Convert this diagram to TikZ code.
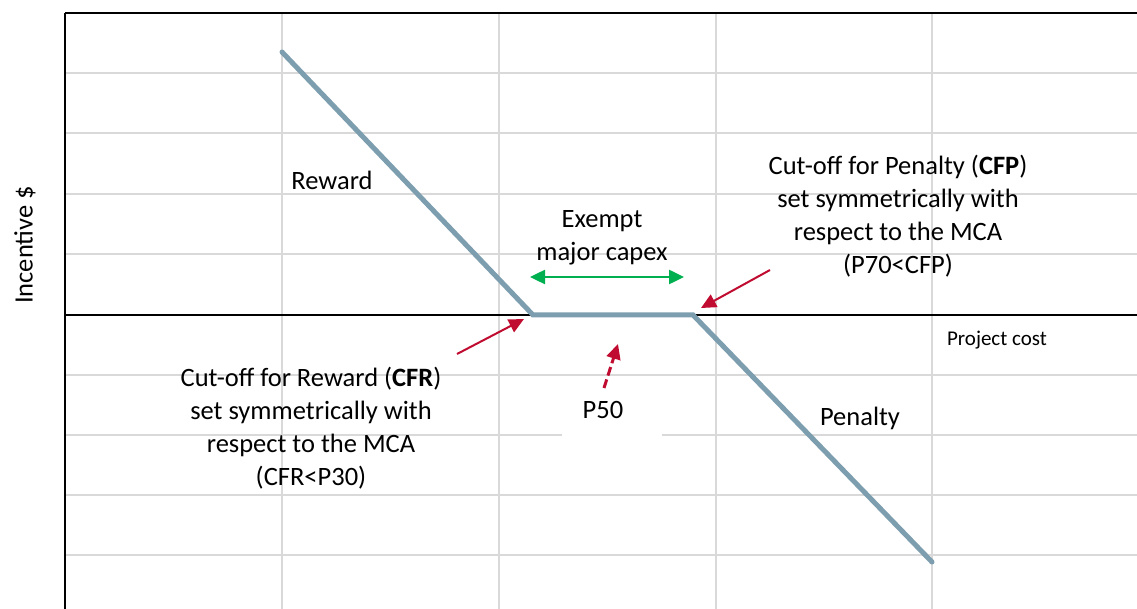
\documentclass[tikz,border=0pt]{standalone}
\usepackage{fontspec}
\setmainfont{Carlito}
\usetikzlibrary{arrows.meta}
\definecolor{gridgray}{RGB}{217,217,217}
\definecolor{curveblue}{RGB}{125,158,174}
\definecolor{arrowred}{RGB}{192,12,48}
\definecolor{arrowgreen}{RGB}{0,176,80}
\tikzset{
  gridline/.style={draw=gridgray, line width=1.6pt},
  axisline/.style={draw=black, line width=1.8pt},
  curve/.style={draw=curveblue, line width=5pt, line cap=round, line join=miter},
  redarrow/.style={draw=arrowred, line width=2pt, -{Triangle[length=15pt,width=14pt]}},
  greenarrow/.style={draw=arrowgreen, line width=2.5pt, {Triangle[length=15pt,width=14pt]}-{Triangle[length=15pt,width=14pt]}},
  lbl/.style={font=\fontsize{26.5}{33}\selectfont, align=center, inner sep=0pt},
  small/.style={font=\fontsize{21}{26}\selectfont, inner sep=0pt}
}
\begin{document}
\begin{tikzpicture}[x=1pt,y=-1pt]
\useasboundingbox (0,0) rectangle (1137,609);
% grid
\foreach \y in {73,133,194,254,375,435,495,555} \draw[gridline] (65,\y) -- (1137,\y);
\foreach \x in {282,499,716,932} \draw[gridline] (\x,13) -- (\x,609);
% axes
\draw[axisline] (65,13) -- (1137,13);
\draw[axisline] (65,13) -- (65,609);
\draw[axisline] (65,315) -- (1137,315);
% P50 white box
\node[lbl, fill=white, minimum width=100pt, minimum height=58pt] (p50) at (612,411) {};
\node[lbl] (p50t) at (603,410) {P50};
% labels
\node[lbl, rotate=90] (ylab) at (25,245) {Incentive \$};
\node[lbl] (reward) at (332,180) {Reward};
\node[lbl] (penalty) at (860,418) {Penalty};
\node[small] (xlab) at (997,340) {Project cost};
\node[lbl] (exempt) at (602,238) {Exempt\\major capex};
\node[lbl] (cfp) at (898,216) {Cut-off for Penalty (\textbf{CFP})\\set symmetrically with\\respect to the MCA\\(P70<CFP)};
\node[lbl] (cfr) at (311,428) {Cut-off for Reward (\textbf{CFR})\\set symmetrically with\\respect to the MCA\\(CFR<P30)};
% curve
\coordinate (r0) at (282,52);
\coordinate (r1) at (533,315);
\coordinate (q0) at (693,315);
\coordinate (q1) at (932,562);
\draw[curve] (r0) -- (r1) -- (q0) -- (q1);
% arrows
\coordinate (ga) at (530,277);
\coordinate (gb) at (684,277);
\draw[greenarrow] (ga) -- (gb);
\coordinate (cfrTail) at (457,354);
\coordinate (cfrTip) at (524,319);
\draw[redarrow] (cfrTail) -- (cfrTip);
\coordinate (cfpTail) at (770,270);
\coordinate (cfpTip) at (701,308);
\draw[redarrow] (cfpTail) -- (cfpTip);
\coordinate (p50Tail) at (604,388);
\coordinate (p50Tip) at (618,344);
\draw[redarrow, line width=3pt, dash pattern=on 9pt off 4pt] (p50Tail) -- (p50Tip);
\end{tikzpicture}
\end{document}
